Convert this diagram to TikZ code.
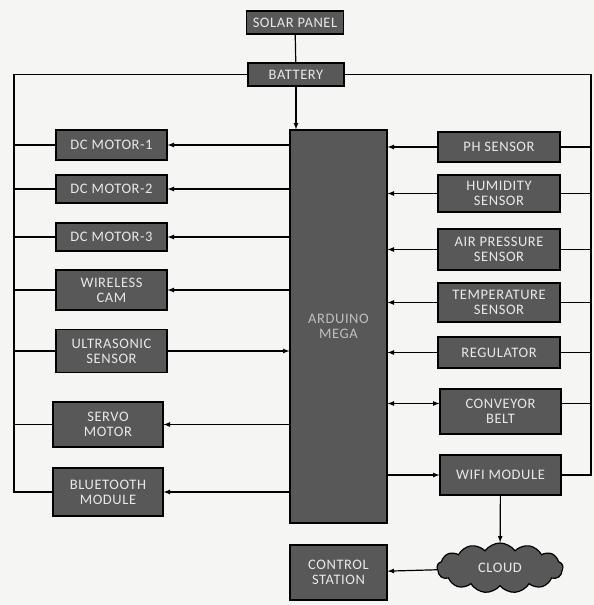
\documentclass[tikz,border=0pt]{standalone}
\usepackage{fontspec}
\usetikzlibrary{shapes.symbols}
\newfontfamily\blockfont{Carlito}[LetterSpace=4]
\definecolor{boxgray}{HTML}{585858}
\definecolor{paper}{HTML}{F5F5F3}
\definecolor{labelgray}{HTML}{E8E8E8}
\tikzset{
	block/.style={shape=rectangle,fill=boxgray,draw=black,line width=1.2pt,text=labelgray,inner sep=0pt,align=center,font=\blockfont\fontsize{14.5}{15}\selectfont},
	cloudblock/.style={block,shape=cloud,cloud puffs=13,cloud puff arc=110,aspect=2.6},
}

\begin{document}
\begin{tikzpicture}[x=1pt,y=-1pt,>=latex,line width=1.2pt]
	\fill[paper] (0,0) rectangle (594,605);
	\useasboundingbox (0,0) rectangle (594,605);

	\node[block,minimum width=97,minimum height=23] (solarPanel) at (295,22.5) {SOLAR PANEL};
	\node[block,minimum width=96,minimum height=23] (battery) at (296,74.5) {BATTERY};

	\node[block,minimum width=97,minimum height=393,text=gray!50] (arduino) at (338.5,326.5) {ARDUINO\\MEGA};

	\node[block,minimum width=111,minimum height=30] (dcMotor1) at (111.5,145) {DC MOTOR-1};
	\node[block,minimum width=111,minimum height=28] (dcMotor2) at (111.5,189) {DC MOTOR-2};
	\node[block,minimum width=111,minimum height=28] (dcMotor3) at (111.5,237) {DC MOTOR-3};
	\node[block,minimum width=111,minimum height=40] (wirelessCam) at (111.5,290) {WIRELESS\\CAM};
	\node[block,minimum width=111,minimum height=43] (ultrasonic) at (111.5,351) {ULTRASONIC\\SENSOR};
	\node[block,minimum width=110,minimum height=45] (servo) at (108,424.5) {SERVO\\MOTOR};
	\node[block,minimum width=110,minimum height=48] (bluetooth) at (108,492) {BLUETOOTH\\MODULE};

	\node[block,minimum width=122,minimum height=30] (phSensor) at (499,147) {PH SENSOR};
	\node[block,minimum width=122,minimum height=37] (humidity) at (499,193.5) {HUMIDITY\\SENSOR};
	\node[block,minimum width=122,minimum height=41] (airPressure) at (499,249.5) {AIR PRESSURE\\SENSOR};
	\node[block,minimum width=122,minimum height=39] (temperature) at (499,302.5) {TEMPERATURE\\SENSOR};
	\node[block,minimum width=122,minimum height=31] (regulator) at (499,352.5) {REGULATOR};
	\node[block,minimum width=121,minimum height=45] (conveyor) at (500.5,411.5) {CONVEYOR\\BELT};
	\node[block,minimum width=121,minimum height=40] (wifi) at (500.5,475) {WIFI MODULE};

	\node[cloudblock,minimum width=126,minimum height=50] (cloud) at (500,568) {CLOUD};
	\node[block,minimum width=97,minimum height=55] (control) at (338.5,572.5) {CONTROL\\STATION};

	\coordinate (leftBus) at (14,492);
	\coordinate (rightBus) at (591,475);

	\draw (solarPanel) -- (battery);
	\path[->](battery) edge (battery |- arduino.north);

	\draw (battery.west) -| (leftBus) -- (bluetooth);
	\draw (dcMotor1.west) -- (dcMotor1.west -| leftBus);
	\draw (dcMotor2.west) -- (dcMotor2.west -| leftBus);
	\draw (dcMotor3.west) -- (dcMotor3.west -| leftBus);
	\draw (wirelessCam.west) -- (wirelessCam.west -| leftBus);
	\draw (ultrasonic.west) -- (ultrasonic.west -| leftBus);
	\draw (servo.west) -- (servo.west -| leftBus);

	\draw (battery.east) -| (rightBus) -- (wifi);
	\draw (phSensor.east) -- (phSensor.east -| rightBus);
	\draw (humidity.east) -- (humidity.east -| rightBus);
	\draw (airPressure.east) -- (airPressure.east -| rightBus);
	\draw (temperature.east) -- (temperature.east -| rightBus);
	\draw (regulator.east) -- (regulator.east -| rightBus);
	\draw ([yshift=8pt]conveyor.east) -- ([yshift=8pt]conveyor.east -| rightBus);

	\path[->](arduino.west |- dcMotor1) edge (dcMotor1);
	\path[->](arduino.west |- dcMotor2) edge (dcMotor2);
	\path[->](arduino.west |- dcMotor3) edge (dcMotor3);
	\path[->](arduino.west |- wirelessCam) edge (wirelessCam);
	\path[->](ultrasonic) edge (arduino.west |- ultrasonic);
	\path[->](arduino.west |- servo) edge (servo);
	\path[->](arduino.west |- bluetooth) edge (bluetooth);

	\path[->](phSensor) edge (arduino.east |- phSensor);
	\path[->](humidity) edge (arduino.east |- humidity);
	\path[->](airPressure) edge (arduino.east |- airPressure);
	\path[->](temperature) edge (arduino.east |- temperature);
	\path[->](regulator) edge (arduino.east |- regulator);
	\path[<->]([yshift=8pt]conveyor.west) edge ([yshift=8pt]conveyor.west -| arduino.east);
	\path[->](arduino.east |- wifi) edge (wifi);

	\path[->](wifi) edge (cloud);
	\path[->](cloud) edge (control);
\end{tikzpicture}
\end{document}
